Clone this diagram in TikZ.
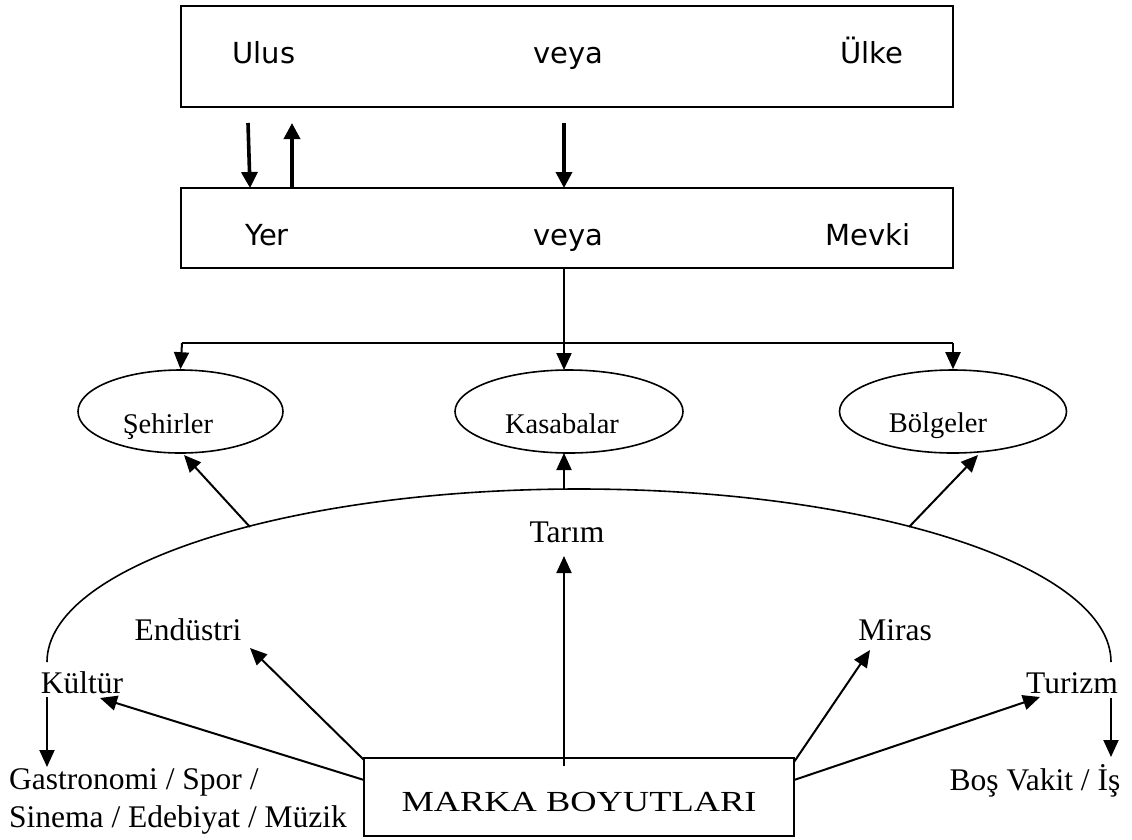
\documentclass[tikz,border=0pt]{standalone}
\usepackage{fontspec}
\usepackage{graphicx}
\setmainfont{Liberation Serif}
\newfontfamily\versans{DejaVu Sans}
\usetikzlibrary{arrows.meta,shapes.geometric}
\begin{document}
\begin{tikzpicture}[x=1pt,y=-1pt,
  boxA/.style={draw,line width=1.8pt,minimum width=772pt,inner sep=0pt},
  sanslbl/.style={font=\versans\fontsize{29}{34}\selectfont,inner sep=0pt,anchor=base},
  oval/.style={draw,ellipse,line width=1.6pt,minimum height=83pt,inner sep=0pt},
  ovallbl/.style={font=\fontsize{28.5}{33}\selectfont,inner sep=0pt,anchor=base},
  biglbl/.style={font=\fontsize{31.5}{36}\selectfont,inner sep=0pt,anchor=base},
  thick arrow/.style={line width=3.6pt,-{Triangle[width=16pt,length=16pt]}},
  arr/.style={line width=2pt,-{Triangle[width=15pt,length=17pt]}},
  plain/.style={line width=2pt}]
\useasboundingbox (0,0) rectangle (1132,839);
% top boxes
\node[boxA,minimum height=101pt] (nation) at (567,56.5) {};
\node[sanslbl] (ulus) at (264,63) {Ulus};
\node[sanslbl] (veya1) at (568,63) {veya};
\node[sanslbl] (ulke) at (872,63) {Ülke};
\node[boxA,minimum height=80pt] (place) at (567,228) {};
\node[sanslbl] (yer) at (267,245) {Yer};
\node[sanslbl] (veya2) at (568,245) {veya};
\node[sanslbl] (mevki) at (868,245) {Mevki};
% arrows between boxes
\coordinate (d1a) at (248,123);
\coordinate (d1b) at (250,188);
\coordinate (u1a) at (292,188);
\coordinate (u1b) at (292,123);
\coordinate (d2a) at (564,123);
\coordinate (d2b) at (564,188);
\draw[thick arrow] (d1a) -- (d1b);
\draw[thick arrow] (u1a) -- (u1b);
\draw[thick arrow] (d2a) -- (d2b);
% ellipses
\node[oval,minimum width=205pt] (seh) at (180.5,411.5) {};
\node[ovallbl] (sehl) at (168,433) {Şehirler};
\node[oval,minimum width=228pt] (kas) at (569,411.5) {};
\node[ovallbl] (kasl) at (562,433) {Kasabalar};
\node[oval,minimum width=227pt] (bol) at (953,411.5) {};
\node[ovallbl] (boll) at (938,432) {Bölgeler};
% distribution lines
\coordinate (pb) at (564,268);
\coordinate (hl) at (182,343);
\coordinate (hr) at (953,343);
\coordinate (kastop) at (564,370);
\draw[arr] (pb) -- (kastop);
\draw[plain] (hl) -- (hr);
\draw[arr] (hl) -- (seh.north);
\draw[arr] (hr) -- (bol.north);
% big arc
\coordinate (arcL) at (47,662);
\draw[line width=1.6pt] (arcL) arc[start angle=180,end angle=360,x radius=532,y radius=173];
\coordinate (arcA) at (250,527);
\coordinate (arcB) at (564,489);
\coordinate (arcC) at (909,527);
\coordinate (sehtip) at (184,455);
\coordinate (boltip) at (978,455);
\coordinate (kastip) at (564,453);
\draw[arr] (arcA) -- (sehtip);
\draw[arr] (arcB) -- (kastip);
\draw[arr] (arcC) -- (boltip);
% lower labels
\node[biglbl] (tarim) at (567,542) {Tarım};
\node[biglbl] (endustri) at (188,640) {Endüstri};
\node[biglbl] (kultur) at (82,693) {Kültür};
\node[biglbl] (miras) at (895,640) {Miras};
\node[biglbl] (turizm) at (1072,693) {Turizm};
\node[biglbl,anchor=base west] (gastro1) at (9,789) {Gastronomi / Spor /};
\node[biglbl,anchor=base west] (gastro2) at (9,827) {Sinema / Edebiyat / Müzik};
\node[biglbl] (bos) at (1035,790) {Boş Vakit / İş};
% marka box
\node[draw,line width=1.8pt,minimum width=430pt,minimum height=78pt,inner sep=0pt] (marka) at (579,797) {};
\node[inner sep=0pt,anchor=base,font=\fontsize{28}{32}\selectfont] (markal) at (579,811) {\resizebox{355pt}{!}{\scalebox{1}[0.8]{MARKA BOYUTLARI}}};
% arrows from marka
\coordinate (m1) at (564,766);
\coordinate (m1t) at (564,556);
\coordinate (mNW) at (364,760);
\coordinate (mW) at (364,780);
\coordinate (mNE) at (794,762);
\coordinate (mE) at (794,780);
\coordinate (endt) at (250,648);
\coordinate (kult) at (100,698);
\coordinate (mirt) at (870,650);
\coordinate (turt) at (1040,697);
\draw[arr] (m1) -- (m1t);
\draw[arr] (mNW) -- (endt);
\draw[arr] (mW) -- (kult);
\draw[arr] (mNE) -- (mirt);
\draw[arr] (mE) -- (turt);
% down arrows
\coordinate (k1) at (47,697);
\coordinate (k2) at (47,767);
\coordinate (t1) at (1111,698);
\coordinate (t2) at (1111,757);
\draw[arr] (k1) -- (k2);
\draw[arr] (t1) -- (t2);
\end{tikzpicture}
\end{document}
